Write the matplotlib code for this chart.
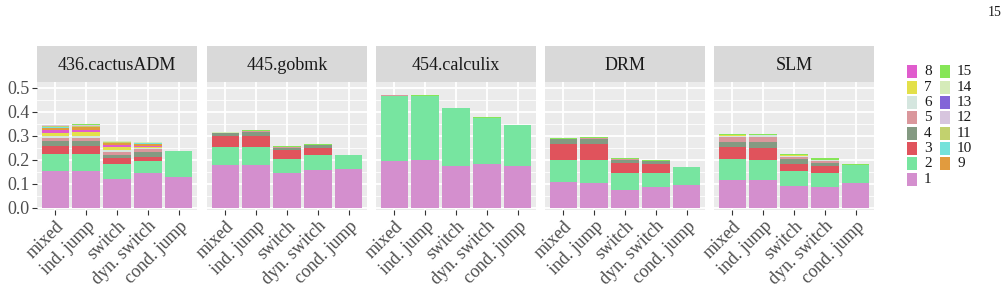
import matplotlib
matplotlib.use("Agg")
import matplotlib.pyplot as plt
import numpy as np
from matplotlib.patches import Rectangle

W, H = 1007, 294

PANELS = ["436.cactusADM", "445.gobmk", "454.calculix", "DRM", "SLM"]
VARIANTS = ["mixed", "ind. jump", "switch", "dyn. switch", "cond. jump"]
LEVELS = [str(i) for i in range(1, 16)]
COLORS = ["#D48FCE", "#77E5A0", "#E0535C", "#849A82", "#DA979C",
          "#D5E6DF", "#E3E04A", "#E05CCD", "#E19B3E", "#75E2DA",
          "#C2D16E", "#D7C5DE", "#8365D8", "#D5EBB9", "#86E657"]

# one row per variant, one column per level 1..15
CACTUS = [
    [0.153, 0.071, 0.033, 0.020, 0.013, 0.009, 0.012, 0.013, 0.007, 0.003, 0.004, 0.004, 0.000, 0.003, 0.001],
    [0.153, 0.071, 0.033, 0.022, 0.011, 0.010, 0.015, 0.007, 0.013, 0.002, 0.004, 0.002, 0.000, 0.003, 0.003],
    [0.120, 0.062, 0.026, 0.011, 0.013, 0.008, 0.012, 0.008, 0.007, 0.002, 0.003, 0.002, 0.000, 0.002, 0.001],
    [0.142, 0.053, 0.016, 0.022, 0.009, 0.007, 0.002, 0.005, 0.009, 0.002, 0.003, 0.001, 0.000, 0.001, 0.002],
    [0.128, 0.107, 0.000, 0.000, 0.000, 0.000, 0.000, 0.000, 0.000, 0.000, 0.000, 0.000, 0.000, 0.000, 0.002],
]
GOBMK = [
    [0.178, 0.075, 0.046, 0.012, 0.001, 0, 0, 0, 0, 0, 0, 0, 0, 0.001, 0.003],
    [0.178, 0.075, 0.046, 0.016, 0.002, 0, 0, 0, 0, 0, 0, 0, 0, 0.002, 0.003],
    [0.142, 0.061, 0.037, 0.010, 0.002, 0, 0, 0, 0, 0, 0, 0, 0, 0.001, 0.004],
    [0.157, 0.063, 0.029, 0.011, 0.001, 0, 0, 0, 0, 0, 0, 0, 0, 0.001, 0.003],
    [0.161, 0.057, 0.000, 0.000, 0.000, 0, 0, 0, 0, 0, 0, 0, 0, 0.000, 0.003],
]
CALCULIX = [
    [0.195, 0.268, 0.003, 0, 0.001, 0, 0, 0, 0, 0, 0, 0, 0, 0, 0.001],
    [0.200, 0.266, 0.000, 0, 0.000, 0, 0, 0, 0, 0, 0, 0, 0, 0, 0.002],
    [0.174, 0.240, 0.000, 0, 0.000, 0, 0, 0, 0, 0, 0, 0, 0, 0, 0.002],
    [0.183, 0.191, 0.000, 0, 0.000, 0, 0, 0, 0, 0, 0, 0, 0, 0, 0.002],
    [0.174, 0.171, 0.000, 0, 0.000, 0, 0, 0, 0, 0, 0, 0, 0, 0, 0.001],
]
DRM = [
    [0.107, 0.092, 0.066, 0.021, 0.001, 0, 0, 0, 0, 0, 0, 0, 0, 0, 0.003],
    [0.103, 0.096, 0.066, 0.021, 0.004, 0, 0, 0, 0, 0, 0, 0, 0, 0, 0.004],
    [0.074, 0.071, 0.041, 0.014, 0.004, 0, 0, 0, 0, 0, 0, 0, 0, 0, 0.003],
    [0.086, 0.059, 0.037, 0.010, 0.004, 0, 0, 0, 0, 0, 0, 0, 0, 0, 0.003],
    [0.095, 0.073, 0.000, 0.000, 0.000, 0, 0, 0, 0, 0, 0, 0, 0, 0, 0.002],
]
SLM = [
    [0.115, 0.088, 0.050, 0.021, 0.021, 0.004, 0.004, 0, 0, 0, 0, 0, 0, 0, 0.004],
    [0.115, 0.084, 0.050, 0.025, 0.021, 0.008, 0.000, 0, 0, 0, 0, 0, 0, 0, 0.004],
    [0.090, 0.063, 0.029, 0.021, 0.008, 0.004, 0.005, 0, 0, 0, 0, 0, 0, 0, 0.004],
    [0.086, 0.059, 0.029, 0.012, 0.009, 0.005, 0.000, 0, 0, 0, 0, 0, 0, 0, 0.007],
    [0.103, 0.076, 0.000, 0.000, 0.000, 0.000, 0.000, 0, 0, 0, 0, 0, 0, 0, 0.003],
]
DATA = [CACTUS, GOBMK, CALCULIX, DRM, SLM]

FONT = ["Liberation Serif", "DejaVu Serif"]
plt.rcParams.update({"font.family": FONT})

PANEL_BG = "#EBEBEB"
STRIP_BG = "#D9D9D9"
TXT = "#4D4D4D"

fig = plt.figure(figsize=(W / 100, H / 100), dpi=100)

x0s = [37, 207, 376, 545, 714]
pw = 160
ptop, pbot = 82, 210
stop = 46


def fx(px):
    return px / W


def fy(py):
    return 1 - py / H


xpos = np.arange(len(VARIANTS))
for i, (name, tab) in enumerate(zip(PANELS, DATA)):
    ax = fig.add_axes([fx(x0s[i]), fy(pbot), pw / W, (pbot - ptop) / H])
    ax.set_facecolor(PANEL_BG)
    vals = np.array(tab)
    bottom = np.zeros(len(VARIANTS))
    for k in range(len(LEVELS)):
        ax.bar(xpos, vals[:, k], 0.9, bottom=bottom, color=COLORS[k],
               linewidth=0, zorder=3)
        bottom += vals[:, k]
    ax.set_xlim(-0.6, 4.6)
    ax.set_ylim(-0.01, 0.523)
    ax.set_yticks(np.arange(0, 0.51, 0.1))
    ax.set_yticks(np.arange(0.05, 0.51, 0.1), minor=True)
    ax.set_xticks(xpos)
    ax.grid(True, which="major", color="white", linewidth=1.3, zorder=0)
    ax.grid(True, which="minor", axis="y", color="white", linewidth=0.6, zorder=0)
    ax.set_axisbelow(True)
    for s in ax.spines.values():
        s.set_visible(False)
    ax.tick_params(axis="both", which="major", color="#333333", length=3.5,
                   width=0.8, labelcolor=TXT, labelsize=13, pad=2)
    ax.tick_params(axis="y", which="minor", length=0)
    ax.set_xticklabels(VARIANTS, rotation=45, ha="right", va="top",
                       rotation_mode="anchor")
    if i == 0:
        ax.set_yticklabels([f"{v:.1f}" for v in np.arange(0, 0.51, 0.1)])
    else:
        ax.tick_params(axis="y", which="major", length=0, labelleft=False)

    sax = fig.add_axes([fx(x0s[i]), fy(ptop), pw / W, (ptop - stop) / H])
    sax.set_facecolor(STRIP_BG)
    sax.set_xticks([]); sax.set_yticks([])
    for s in sax.spines.values():
        s.set_visible(False)
    sax.text(0.5, 0.47, name, ha="center", va="center", fontsize=13,
             color="#1A1A1A", transform=sax.transAxes)

# legend: two columns, levels 8..1 then 15..9
columns = [[7, 6, 5, 4, 3, 2, 1, 0], [14, 13, 12, 11, 10, 9, 8]]
key_x = [907, 940]
row0, step = 71.7, 15.33
kw, kh = 10, 13
for c, col in enumerate(columns):
    for j, k in enumerate(col):
        yc = row0 + j * step
        fig.patches.append(Rectangle((fx(key_x[c]), fy(yc + kh / 2)), kw / W, kh / H,
                                     transform=fig.transFigure, facecolor=COLORS[k],
                                     edgecolor="none"))
        fig.text(fx(key_x[c] + kw + 7), fy(yc), LEVELS[k], ha="left", va="center",
                 fontsize=11, color="#1A1A1A")

fig.text(fx(995), fy(12), "15", ha="center", va="center", fontsize=10,
         color="#1A1A1A")

fig.savefig("out.png", dpi=100)
